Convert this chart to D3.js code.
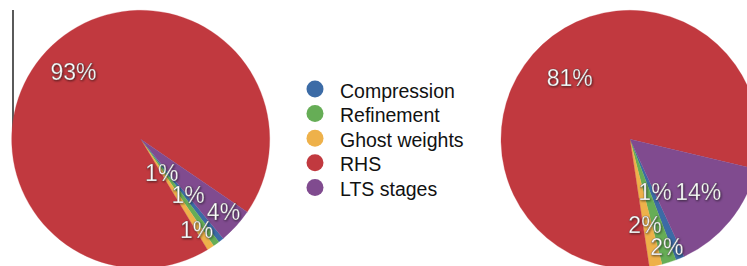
<!DOCTYPE html>
<html><head><meta charset="utf-8">
<script src="https://cdn.jsdelivr.net/npm/d3@7"></script>
<style>
html,body{margin:0;padding:0;background:#fff;}
svg{display:block;}
</style></head>
<body>
<svg id="chart" width="747" height="266"></svg>
<script>
// ---- data ----
const categories = ["Compression", "Refinement", "Ghost weights", "RHS", "LTS stages"];
const colors = ["#3c6ba6", "#66ad56", "#eeb14a", "#c1393f", "#804b8f"];
const leftValues  = [0.7, 0.8, 0.9, 93.2, 4.4];
const rightValues = [1.1, 1.8, 1.6, 81.1, 14.4];
const leftLabels  = ["1%", "1%", "1%", "93%", "4%"];
const rightLabels = ["1%", "2%", "2%", "81%", "14%"];

// ---- layout ----
const svg = d3.select("#chart");
const R = 129;
const deg = Math.PI / 180;

// label placement (polar: angle deg clockwise from 12 o'clock, radius px) per slice
const leftLabelPos  = [[148.3, 40], [148.3, 106.6], [139.5, 73], [315, 95], [131.2, 110]];
const rightLabelPos = [[154.5, 58], [161.1, 113.5], [170.1, 87], [315.5, 86], [127.5, 86]];

const defs = svg.append("defs");
const f = defs.append("filter").attr("id", "shadow").attr("x", "-20%").attr("y", "-20%").attr("width", "140%").attr("height", "140%");
f.append("feDropShadow").attr("dx", 0.8).attr("dy", 1).attr("stdDeviation", 0.8).attr("flood-color", "#000").attr("flood-opacity", 0.55);

// thin black vertical line at left
svg.append("line").attr("x1", 13).attr("x2", 13).attr("y1", 10).attr("y2", 138)
  .attr("stroke", "#000").attr("stroke-width", 1.3);

function drawPie(cx, cy, values, labels, labelPos, startDeg) {
  const g = svg.append("g").attr("transform", `translate(${cx},${cy})`);
  const pie = d3.pie().sort(null).value(d => d)
    .startAngle(startDeg * deg).endAngle(startDeg * deg + 2 * Math.PI);
  const arc = d3.arc().innerRadius(0).outerRadius(R);
  const arcs = pie(values);
  g.selectAll("path.slice").data(arcs).enter().append("path")
    .attr("class", "slice")
    .attr("d", arc)
    .attr("fill", (d, i) => colors[i])
    .attr("stroke", (d, i) => colors[i])
    .attr("stroke-width", 0.3);
  g.selectAll("text.lab").data(arcs).enter().append("text")
    .attr("class", "lab")
    .attr("x", (d, i) => labelPos[i][1] * Math.sin(labelPos[i][0] * deg))
    .attr("y", (d, i) => -labelPos[i][1] * Math.cos(labelPos[i][0] * deg))
    .attr("text-anchor", "middle")
    .attr("dominant-baseline", "central")
    .attr("font-family", "'Liberation Sans', Arial, sans-serif")
    .attr("font-size", 23)
    .attr("fill", "#fff")
    .attr("stroke", "rgba(60,60,60,0.45)")
    .attr("stroke-width", 0.6)
    .attr("filter", "url(#shadow)")
    .text((d, i) => labels[i]);
}

drawPie(140.7, 139.3, leftValues, leftLabels, leftLabelPos, 140.2);
drawPie(630, 139.3, rightValues, rightLabels, rightLabelPos, 155.2);

// ---- legend ----
const legend = svg.append("g").attr("transform", "translate(315,89)");
const rows = legend.selectAll("g.row").data(categories).enter().append("g")
  .attr("class", "row")
  .attr("transform", (d, i) => `translate(0,${i * 24.6})`);
rows.append("circle").attr("r", 8.5).attr("cx", 0).attr("cy", 0)
  .attr("fill", (d, i) => colors[i]);
rows.append("text")
  .attr("x", 25).attr("y", 1.5)
  .attr("dominant-baseline", "central")
  .attr("font-family", "'Liberation Sans', Arial, sans-serif")
  .attr("font-size", 19.5)
  .attr("fill", "#111")
  .text(d => d);
</script>
</body></html>
